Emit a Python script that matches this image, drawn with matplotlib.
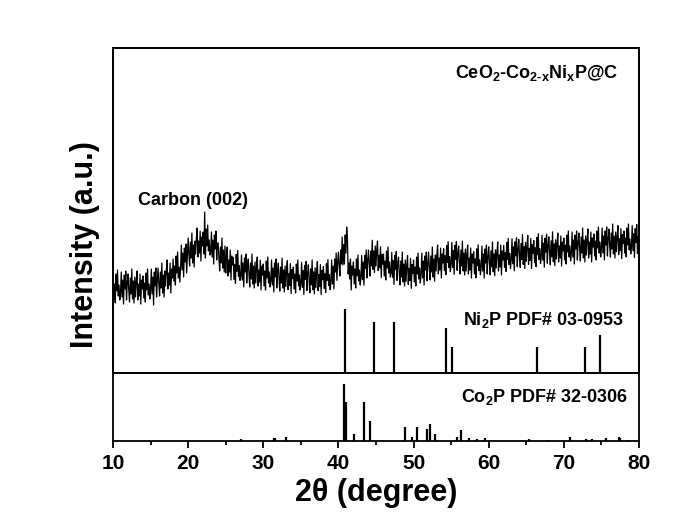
import numpy as np
import matplotlib
matplotlib.use("Agg")
import matplotlib.pyplot as plt
from matplotlib.ticker import MultipleLocator

plt.rcParams['font.family'] = ['Liberation Sans', 'DejaVu Sans']
plt.rcParams['font.weight'] = 'bold'
plt.rcParams['mathtext.fontset'] = 'custom'
plt.rcParams['mathtext.rm'] = 'Liberation Sans:bold'
plt.rcParams['mathtext.bf'] = 'Liberation Sans:bold'
plt.rcParams['mathtext.default'] = 'bf'

narrow = ['Liberation Sans Narrow', 'Liberation Sans', 'DejaVu Sans']

# measured pattern, 10-80 deg in 0.1 deg steps (one row per degree)
two_theta = np.linspace(10, 80, 701)
counts = [
    480, 370, 445, 350, 495, 410, 515, 385, 440, 365,
    400, 505, 380, 465, 345, 490, 420, 510, 365, 450,
    495, 415, 355, 475, 395, 520, 370, 460, 350, 480,
    380, 460, 510, 365, 445, 385, 495, 345, 465, 420,
    485, 375, 450, 355, 500, 415, 520, 390, 445, 370,
    415, 520, 395, 480, 340, 505, 435, 525, 380, 465,
    525, 445, 385, 505, 425, 550, 400, 490, 380, 510,
    435, 515, 565, 420, 500, 440, 550, 400, 520, 475,
    570, 460, 535, 440, 585, 500, 605, 475, 530, 455,
    535, 640, 515, 600, 480, 625, 555, 645, 500, 585,
    675, 595, 535, 655, 575, 700, 550, 640, 530, 660,
    595, 675, 725, 580, 660, 600, 710, 560, 680, 635,
    705, 595, 805, 575, 720, 635, 740, 610, 665, 590,
    600, 705, 580, 665, 545, 690, 620, 710, 565, 650,
    650, 570, 510, 630, 550, 675, 525, 615, 505, 635,
    500, 580, 630, 485, 565, 505, 615, 465, 585, 540,
    578, 468, 543, 448, 593, 508, 613, 483, 538, 463,
    485, 590, 465, 550, 430, 575, 505, 595, 450, 535,
    570, 490, 430, 550, 470, 595, 445, 535, 425, 555,
    450, 530, 580, 435, 515, 455, 565, 415, 535, 490,
    545, 435, 510, 415, 560, 475, 580, 450, 505, 430,
    460, 565, 440, 525, 405, 550, 480, 570, 425, 510,
    550, 470, 410, 530, 450, 575, 425, 515, 405, 535,
    432, 512, 562, 417, 497, 437, 547, 397, 517, 472,
    530, 420, 495, 400, 545, 460, 565, 435, 490, 415,
    448, 553, 428, 513, 393, 538, 468, 558, 413, 498,
    541, 461, 401, 521, 441, 566, 416, 506, 396, 526,
    427, 507, 557, 412, 492, 432, 542, 392, 512, 467,
    532, 422, 497, 402, 547, 462, 567, 437, 492, 417,
    455, 565, 445, 535, 420, 570, 505, 600, 463, 555,
    605, 535, 485, 615, 545, 680, 540, 642, 545, 690,
    600, 730, 670, 495, 550, 470, 570, 415, 535, 490,
    555, 445, 520, 425, 570, 485, 590, 460, 515, 440,
    480, 588, 467, 555, 439, 588, 522, 616, 475, 565,
    615, 540, 485, 610, 535, 664, 518, 611, 503, 635,
    535, 613, 660, 512, 589, 525, 631, 477, 593, 544,
    595, 485, 560, 465, 610, 525, 630, 500, 555, 480,
    498, 603, 478, 563, 443, 588, 518, 608, 463, 548,
    580, 500, 440, 560, 480, 605, 455, 545, 435, 565,
    458, 538, 588, 443, 523, 463, 573, 423, 543, 498,
    565, 455, 530, 435, 580, 495, 600, 470, 525, 450,
    495, 600, 475, 560, 440, 585, 515, 605, 460, 545,
    605, 525, 465, 585, 505, 630, 480, 570, 460, 590,
    510, 590, 640, 495, 575, 515, 625, 475, 595, 550,
    622, 512, 587, 492, 637, 552, 657, 527, 582, 507,
    548, 653, 528, 613, 493, 638, 568, 658, 513, 598,
    635, 555, 495, 615, 535, 660, 510, 600, 490, 620,
    510, 590, 640, 495, 575, 515, 625, 475, 595, 550,
    606, 496, 571, 476, 621, 536, 641, 511, 566, 491,
    530, 635, 510, 595, 475, 620, 550, 640, 495, 580,
    631, 551, 491, 611, 531, 656, 506, 596, 486, 616,
    525, 605, 655, 510, 590, 530, 640, 490, 610, 565,
    638, 528, 603, 508, 653, 568, 673, 543, 598, 523,
    566, 671, 546, 631, 511, 656, 586, 676, 531, 616,
    668, 588, 528, 648, 568, 693, 543, 633, 523, 653,
    558, 638, 688, 543, 623, 563, 673, 523, 643, 598,
    662, 552, 627, 532, 677, 592, 697, 567, 622, 547,
    584, 689, 564, 649, 529, 674, 604, 694, 549, 634,
    681, 601, 541, 661, 581, 706, 556, 646, 536, 666,
    570, 650, 700, 555, 635, 575, 685, 535, 655, 610,
    675, 565, 640, 545, 690, 605, 710, 580, 635, 560,
    600, 705, 580, 665, 545, 690, 620, 710, 565, 650,
    700, 620, 560, 680, 600, 725, 575, 665, 555, 685,
    590, 670, 720, 575, 655, 595, 705, 555, 675, 630,
    695, 585, 660, 565, 710, 625, 730, 600, 655, 580,
    620, 725, 600, 685, 565, 710, 640, 730, 585, 670,
    720, 640, 580, 700, 620, 745, 595, 685, 575, 705,
    607, 687, 737, 592, 672, 612, 722, 572, 692, 647,
    710, 600, 675, 580, 725, 640, 745, 615, 670, 595,
    632, 737, 612, 697, 577, 722, 652, 742, 597, 682,
    665,
]

# Ni2P PDF# 03-0953
ni2p_pos = [40.9, 44.7, 47.4, 54.3, 55.05, 66.4, 72.8, 74.8]
ni2p_int = [100, 80, 80, 70, 40, 40, 40, 60]

# Co2P PDF# 32-0306
co2p_pos = [27.0, 31.4, 31.6, 33.0, 40.8, 41.0, 42.1, 43.4, 44.2, 48.8, 49.8, 50.5,
            51.8, 52.2, 52.8, 55.8, 56.3, 57.4, 58.4, 59.5, 65.3, 68.0, 70.8, 73.0,
            73.8, 75.6, 77.3, 77.5, 78.7]
co2p_int = [3.5, 5, 5, 6.5, 100, 69, 13, 69, 35, 25, 7, 25,
            21, 31, 12, 8, 19, 5, 3.5, 6, 3, 2, 8, 4,
            4, 6, 8, 5, 2]

fig = plt.figure(figsize=(6.89, 5.22), dpi=100)
ax = fig.add_axes([0.164, 0.2854, 0.7634, 0.6226])
ax2 = fig.add_axes([0.164, 0.155, 0.7634, 0.1303])

ax.plot(two_theta, counts, color='black', lw=0.9)
ax.set_xlim(10, 80)
ax.set_ylim(0, 1625)
ax.set_xticks([])
ax.set_yticks([])

sticks = ax.twinx()
sticks.vlines(ni2p_pos, 0, ni2p_int, color='black', lw=1.6)
sticks.set_ylim(0, 508)
sticks.set_yticks([])

ax2.vlines(co2p_pos, 0, co2p_int, color='black', lw=1.6)
ax2.set_xlim(10, 80)
ax2.set_ylim(0, 120)
ax2.set_yticks([])
ax2.xaxis.set_major_locator(MultipleLocator(10))
ax2.xaxis.set_minor_locator(MultipleLocator(5))
ax2.tick_params(axis='x', which='major', direction='out', length=5, width=1.3, pad=4)
ax2.tick_params(axis='x', which='minor', direction='out', length=3, width=1.3)
for lab in ax2.get_xticklabels():
    lab.set_family(narrow)
    lab.set_fontsize(15)
    lab.set_fontweight('bold')

for a in (ax, ax2, sticks):
    for s in a.spines.values():
        s.set_linewidth(1.3)

ax.text(77.2, 1500, 'CeO$_2$-Co$_{2\\text{-}x}$Ni$_x$P@C', ha='right', va='center',
        fontsize=13, fontweight='bold')
ax.text(20.6, 865, 'Carbon (002)', ha='center', va='center',
        fontsize=13, fontweight='bold')
ax.text(78.0, 265, 'Ni$_2$P PDF# 03-0953', ha='right', va='center',
        fontsize=13, fontweight='bold')
ax2.text(78.5, 78, 'Co$_2$P PDF# 32-0306', ha='right', va='center',
         fontsize=13, fontweight='bold')

fig.text(0.1234, 0.5307, 'Intensity (a.u.)', rotation=90, ha='center', va='center',
         family=narrow, fontsize=22, fontweight='bold')
fig.text(0.546, 0.0556, '2θ (degree)', ha='center', va='center',
         family=narrow, fontsize=22, fontweight='bold')

fig.savefig('out.png', dpi=100)
